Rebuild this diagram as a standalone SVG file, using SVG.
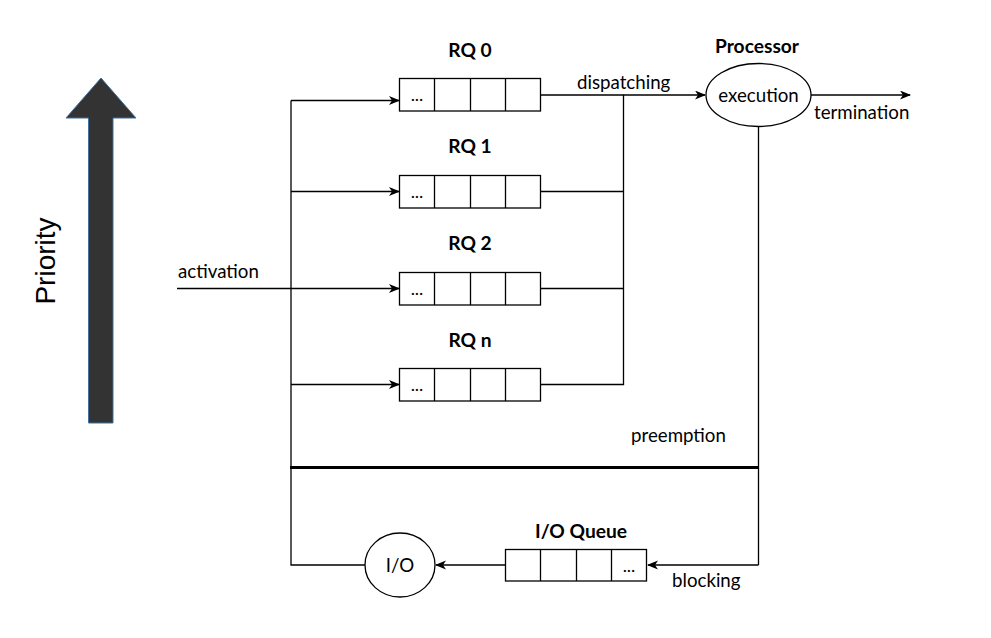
<svg xmlns="http://www.w3.org/2000/svg" width="991" height="638" viewBox="0 0 991 638">
<defs>
<marker id="arr" markerUnits="userSpaceOnUse" markerWidth="12" markerHeight="10" refX="10" refY="4.5" orient="auto">
<path d="M0,0 L11,4.5 L0,9 L3,4.5 Z" fill="#000"/>
</marker>
</defs>
<style>
text{font-family:Lato,"Liberation Sans",sans-serif;fill:#000}
.lbl{font-size:18.7px}
.ttl{font-size:19.2px;font-weight:bold;text-anchor:middle}
.dots{font-size:18px;text-anchor:middle}
.box{fill:#fff;stroke:#000;stroke-width:1.3}
.ln{fill:none;stroke:#000;stroke-width:1.3}
.ar{fill:none;stroke:#000;stroke-width:1.3;marker-end:url(#arr)}
</style>
<rect width="991" height="638" fill="#fff"/>
<g id="priority">
<path d="M88.5,423 L88.5,118 L66,118 L101,78 L136,118 L113,118 L113,423 Z" fill="#333" stroke="#41719c" stroke-width="1"/>
<text transform="translate(55,261) rotate(-90)" style="font-family:'Liberation Sans',Arial,sans-serif;font-size:28px;text-anchor:middle">Priority</text>
</g>
<g id="connectors">
<path class="ln" d="M291,100.5 L291,565 L365,565"/>
<path class="ar" d="M291,100.5 L399,100.5"/>
<path class="ar" d="M291,191.5 L399,191.5"/>
<path class="ar" d="M177,288.5 L399,288.5"/>
<path class="ar" d="M291,384.5 L399,384.5"/>
<path class="ln" d="M540.5,95 L623.5,95 L623.5,384.5 L540.5,384.5"/>
<path class="ln" d="M540.5,191.5 L623.5,191.5"/>
<path class="ln" d="M540.5,288.5 L623.5,288.5"/>
<path class="ar" d="M623.5,95 L705,95"/>
<path class="ar" d="M811,95 L910,95"/>
<path class="ln" d="M758.5,126.5 L758.5,565"/>
<path class="ar" d="M758.5,565 L648,565"/>
<path class="ar" d="M505.5,565 L436,565"/>
<path d="M290,467.5 L759,467.5" fill="none" stroke="#000" stroke-width="3"/>
<text class="lbl" x="577" y="88.5">dispatching</text>
<text class="lbl" x="814" y="119">termination</text>
<text class="lbl" x="178" y="278">activation</text>
<text class="lbl" x="631" y="442">preemption</text>
<text class="lbl" x="672" y="587">blocking</text>
</g>
<g id="rq0">
<text class="ttl" x="470" y="57">RQ 0</text>
<rect class="box" x="399.5" y="78.5" width="141" height="32.5"/>
<path class="ln" d="M434.5,78.5 V111 M470.5,78.5 V111 M505.5,78.5 V111"/>
<text class="dots" x="417" y="101">...</text>
</g>
<g id="rq1">
<text class="ttl" x="470" y="153">RQ 1</text>
<rect class="box" x="399.5" y="175.5" width="141" height="32.5"/>
<path class="ln" d="M434.5,175.5 V208 M470.5,175.5 V208 M505.5,175.5 V208"/>
<text class="dots" x="417" y="198">...</text>
</g>
<g id="rq2">
<text class="ttl" x="470" y="250">RQ 2</text>
<rect class="box" x="399.5" y="272.5" width="141" height="32.5"/>
<path class="ln" d="M434.5,272.5 V305 M470.5,272.5 V305 M505.5,272.5 V305"/>
<text class="dots" x="417" y="295">...</text>
</g>
<g id="rqn">
<text class="ttl" x="470" y="347">RQ n</text>
<rect class="box" x="399.5" y="368.5" width="141" height="32.5"/>
<path class="ln" d="M434.5,368.5 V401 M470.5,368.5 V401 M505.5,368.5 V401"/>
<text class="dots" x="417" y="391">...</text>
</g>
<g id="processor">
<text class="ttl" x="757" y="53">Processor</text>
<ellipse class="box" cx="758.5" cy="95" rx="52.5" ry="31.5"/>
<text class="lbl" x="758.5" y="102" text-anchor="middle">execution</text>
</g>
<g id="ioqueue">
<text class="ttl" x="581" y="538">I/O Queue</text>
<rect class="box" x="505.5" y="549.5" width="141" height="31.5"/>
<path class="ln" d="M540.5,549.5 V581 M576.5,549.5 V581 M611.5,549.5 V581"/>
<text class="dots" x="629" y="572">...</text>
</g>
<g id="io">
<ellipse class="box" cx="400" cy="565" rx="35" ry="32"/>
<text class="lbl" x="400" y="572" text-anchor="middle">I/O</text>
</g>
</svg>
